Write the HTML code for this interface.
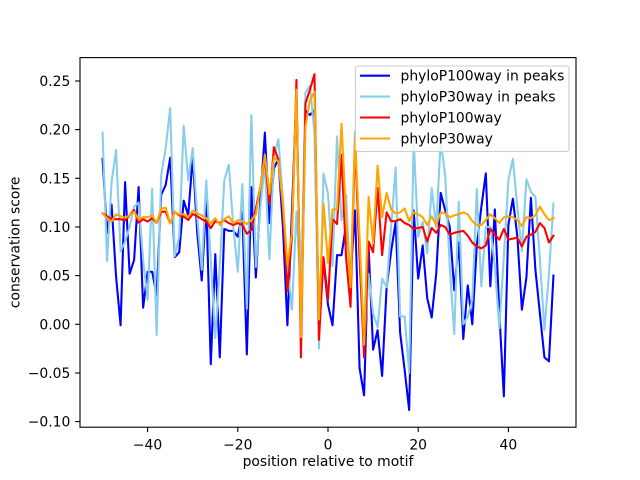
<!DOCTYPE html>
<html><head><meta charset="utf-8"><style>
html,body{margin:0;padding:0;background:#fff;}
svg{display:block;}
text{font-family:"DejaVu Sans","Liberation Sans",sans-serif;font-size:13.9px;fill:#000;}
</style></head><body>
<svg width="640" height="480" viewBox="0 0 640 480" xmlns="http://www.w3.org/2000/svg">
<rect x="0" y="0" width="640" height="480" fill="#fff"/>
<defs><clipPath id="ax"><rect x="80" y="57.6" width="496" height="369.6"/></clipPath></defs>
<g clip-path="url(#ax)">
<g transform="matrix(4.509 0 0 -973.4 328 324.3)" fill="none" stroke-linejoin="round" stroke-linecap="square">
<polyline vector-effect="non-scaling-stroke" stroke="#0000ff" stroke-width="2.08" points="-50,0.170 -49,0.094 -48,0.123 -47,0.049 -46,-0.001 -45,0.146 -44,0.052 -43,0.066 -42,0.141 -41,0.017 -40,0.054 -39,0.054 -38,0.03 -37,0.133 -36,0.143 -35,0.171 -34,0.069 -33,0.074 -32,0.127 -31,0.112 -30,0.172 -29,0.094 -28,0.045 -27,0.126 -26,-0.041 -25,0.072 -24,-0.034 -23,0.098 -22,0.096 -21,0.096 -20,0.09 -19,0.115 -18,-0.031 -17,0.141 -16,0.048 -15,0.128 -14,0.197 -13,0.104 -12,0.16 -11,0.17 -10,0.10 -9,-0.001 -8,0.116 -7,0.235 -6,0.0 -5,0.22 -4,0.215 -3,0.22 -2,0.0 -1,0.065 0,0.02 1,-0.001 2,0.071 3,0.071 4,0.102 5,0.05 6,0.117 7,-0.045 8,-0.073 9,0.08 10,-0.026 11,-0.006 12,-0.053 13,0.038 14,0.075 15,0.105 16,-0.009 17,-0.047 18,-0.088 19,0.117 20,0.047 21,0.081 22,0.027 23,0.007 24,0.052 25,0.135 26,0.117 27,0.10 28,0.035 29,0.084 30,-0.015 31,0.04 32,0.0 33,0.081 34,0.12 35,0.155 36,0.039 37,0.118 38,0.011 39,-0.074 40,0.102 41,0.129 42,0.09 43,0.015 44,0.048 45,0.13 46,0.056 47,0.011 48,-0.034 49,-0.038 50,0.05"/>
<polyline vector-effect="non-scaling-stroke" stroke="#87ceeb" stroke-width="2.08" points="-50,0.197 -49,0.065 -48,0.146 -47,0.179 -46,0.075 -45,0.085 -44,0.10 -43,0.121 -42,0.125 -41,0.066 -40,0.025 -39,0.139 -38,-0.011 -37,0.153 -36,0.181 -35,0.222 -34,0.07 -33,0.09 -32,0.204 -31,0.148 -30,0.181 -29,0.11 -28,0.056 -27,0.148 -26,0.066 -25,-0.014 -24,0.06 -23,0.148 -22,0.164 -21,0.10 -20,0.054 -19,0.144 -18,0.016 -17,0.215 -16,0.059 -15,0.12 -14,0.165 -13,0.067 -12,0.172 -11,0.19 -10,0.128 -9,0.06 -8,0.015 -7,0.116 -6,0.03 -5,0.238 -4,0.245 -3,0.196 -2,-0.025 -1,0.155 0,0.134 1,0.06 2,0.193 3,0.107 4,0.133 5,0.035 6,0.198 7,0.066 8,-0.025 9,0.052 10,0.011 11,-0.003 12,0.047 13,0.038 14,0.1 15,0.161 16,0.008 17,0.008 18,-0.05 19,0.189 20,0.09 21,0.105 22,0.073 23,0.14 24,0.1 25,0.189 26,0.152 27,0.059 28,-0.01 29,0.126 30,0.0 31,0.008 32,0.025 33,0.139 34,0.039 35,0.1 36,0.1 37,0.06 38,-0.004 39,0.07 40,0.148 41,0.17 42,0.12 43,0.075 44,0.149 45,0.136 46,0.131 47,0.066 48,-0.006 49,0.052 50,0.124"/>
<polyline vector-effect="non-scaling-stroke" stroke="#ff0000" stroke-width="2.08" points="-50,0.114 -49,0.111 -48,0.108 -47,0.108 -46,0.108 -45,0.1065 -44,0.112 -43,0.1175 -42,0.1044 -41,0.108 -40,0.1055 -39,0.109 -38,0.104 -37,0.1157 -36,0.1157 -35,0.1037 -34,0.1157 -33,0.112 -32,0.1106 -31,0.1072 -30,0.1133 -29,0.111 -28,0.108 -27,0.1055 -26,0.0988 -25,0.106 -24,0.104 -23,0.107 -22,0.104 -21,0.102 -20,0.104 -19,0.102 -18,0.093 -17,0.097 -16,0.119 -15,0.141 -14,0.172 -13,0.124 -12,0.182 -11,0.169 -10,0.118 -9,0.034 -8,0.09 -7,0.251 -6,-0.034 -5,0.227 -4,0.241 -3,0.257 -2,-0.016 -1,0.069 0,0.025 1,0.108 2,0.103 3,0.174 4,0.069 5,0.018 6,0.188 7,0.069 8,-0.034 9,0.085 10,0.074 11,0.14 12,0.071 13,0.115 14,0.106 15,0.106 16,0.108 17,0.104 18,0.102 19,0.098 20,0.099 21,0.1 22,0.085 23,0.099 24,0.094 25,0.102 26,0.1 27,0.092 28,0.094 29,0.095 30,0.096 31,0.091 32,0.084 33,0.08 34,0.078 35,0.081 36,0.098 37,0.092 38,0.087 39,0.098 40,0.087 41,0.088 42,0.089 43,0.08 44,0.09 45,0.092 46,0.095 47,0.104 48,0.099 49,0.084 50,0.091"/>
<polyline vector-effect="non-scaling-stroke" stroke="#ffa500" stroke-width="2.08" points="-50,0.114 -49,0.109 -48,0.1055 -47,0.113 -46,0.111 -45,0.1095 -44,0.112 -43,0.1157 -42,0.108 -41,0.110 -40,0.110 -39,0.112 -38,0.104 -37,0.119 -36,0.1198 -35,0.1037 -34,0.1157 -33,0.113 -32,0.113 -31,0.1106 -30,0.1167 -29,0.114 -28,0.112 -27,0.109 -26,0.1037 -25,0.109 -24,0.102 -23,0.108 -22,0.111 -21,0.104 -20,0.107 -19,0.106 -18,0.103 -17,0.107 -16,0.113 -15,0.141 -14,0.174 -13,0.134 -12,0.172 -11,0.167 -10,0.124 -9,0.061 -8,0.094 -7,0.241 -6,-0.013 -5,0.203 -4,0.23 -3,0.239 -2,0.005 -1,0.124 0,0.063 1,0.118 2,0.118 3,0.206 4,0.11 5,0.038 6,0.193 7,0.09 8,-0.021 9,0.131 10,0.083 11,0.163 12,0.11 13,0.135 14,0.118 15,0.114 16,0.115 17,0.119 18,0.106 19,0.115 20,0.113 21,0.11 22,0.102 23,0.111 24,0.102 25,0.115 26,0.114 27,0.11 28,0.112 29,0.113 30,0.115 31,0.113 32,0.106 33,0.102 34,0.102 35,0.107 36,0.113 37,0.109 38,0.104 39,0.11 40,0.111 41,0.11 42,0.107 43,0.101 44,0.11 45,0.109 46,0.112 47,0.121 48,0.113 49,0.107 50,0.109"/>
</g>
</g>
<!-- spines -->
<rect x="80" y="57.6" width="496" height="369.6" fill="none" stroke="#000" stroke-width="1.1"/>
<!-- x ticks -->
<g stroke="#000" stroke-width="1.1">
<line x1="147.6" y1="427.2" x2="147.6" y2="432.1"/>
<line x1="237.8" y1="427.2" x2="237.8" y2="432.1"/>
<line x1="328" y1="427.2" x2="328" y2="432.1"/>
<line x1="418.2" y1="427.2" x2="418.2" y2="432.1"/>
<line x1="508.4" y1="427.2" x2="508.4" y2="432.1"/>
<line x1="75.1" y1="421.6" x2="80" y2="421.6"/>
<line x1="75.1" y1="373.0" x2="80" y2="373.0"/>
<line x1="75.1" y1="324.3" x2="80" y2="324.3"/>
<line x1="75.1" y1="275.6" x2="80" y2="275.6"/>
<line x1="75.1" y1="227.0" x2="80" y2="227.0"/>
<line x1="75.1" y1="178.3" x2="80" y2="178.3"/>
<line x1="75.1" y1="129.6" x2="80" y2="129.6"/>
<line x1="75.1" y1="81.0" x2="80" y2="81.0"/>
</g>
<g text-anchor="middle">
<text x="147.6" y="449.3">−40</text>
<text x="237.8" y="449.3">−20</text>
<text x="328" y="449.3">0</text>
<text x="418.2" y="449.3">20</text>
<text x="508.4" y="449.3">40</text>
</g>
<g text-anchor="end">
<text x="70.3" y="426.6">−0.10</text>
<text x="70.3" y="378.0">−0.05</text>
<text x="70.3" y="329.3">0.00</text>
<text x="70.3" y="280.6">0.05</text>
<text x="70.3" y="232.0">0.10</text>
<text x="70.3" y="183.3">0.15</text>
<text x="70.3" y="134.6">0.20</text>
<text x="70.3" y="86.0">0.25</text>
</g>
<text x="328" y="466" text-anchor="middle">position relative to motif</text>
<text transform="translate(19.5,242.4) rotate(-90)" x="0" y="0" text-anchor="middle">conservation score</text>
<!-- legend -->
<rect x="355.5" y="66" width="213.5" height="85.5" rx="2.8" ry="2.8" fill="#fff" fill-opacity="0.8" stroke="#cccccc" stroke-width="1.1"/>
<g stroke-width="2.08">
<line x1="360" y1="75.7" x2="390" y2="75.7" stroke="#0000ff"/>
<line x1="360" y1="96.6" x2="390" y2="96.6" stroke="#87ceeb"/>
<line x1="360" y1="117.5" x2="390" y2="117.5" stroke="#ff0000"/>
<line x1="360" y1="138.5" x2="390" y2="138.5" stroke="#ffa500"/>
</g>
<text x="400.5" y="80.7">phyloP100way in peaks</text>
<text x="400.5" y="101.6">phyloP30way in peaks</text>
<text x="400.5" y="122.5">phyloP100way</text>
<text x="400.5" y="143.5">phyloP30way</text>
</svg>
</body></html>
